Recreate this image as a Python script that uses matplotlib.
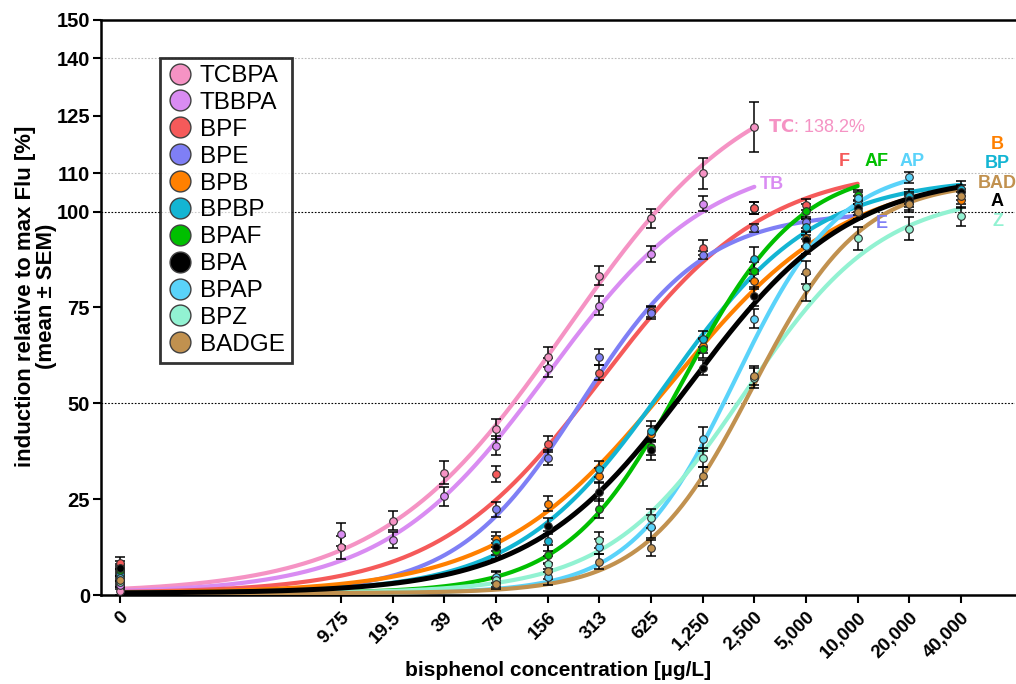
import numpy as np
import matplotlib
matplotlib.use('Agg')
import matplotlib.pyplot as plt
from matplotlib.lines import Line2D

plt.rcParams['font.family'] = ['Liberation Sans', 'DejaVu Sans']

# concentrations (0 is drawn at 0.5 on the log axis)
conc = [0.5, 9.75, 19.5, 39, 78, 156, 313, 625, 1250, 2500, 5000, 10000, 20000, 40000]
conc_labels = ['0', '9.75', '19.5', '39', '78', '156', '313', '625', '1,250', '2,500',
               '5,000', '10,000', '20,000', '40,000']

names = ['TCBPA', 'TBBPA', 'BPF', 'BPE', 'BPB', 'BPBP', 'BPAF', 'BPA', 'BPAP', 'BPZ', 'BADGE']
colors = ['#f593c4', '#d98cf2', '#f55a5a', '#7f7ff5', '#ff8000', '#13b5d3',
          '#00bf00', '#000000', '#5ad3fa', '#92f2d2', '#c1914f']

n = np.nan
# mean values per concentration (same order as conc)
means = {
    'TCBPA': [1.1, 12.5, 19.4, 31.9, 43.3, 62.1, 83.3, 98.2, 110.0, 122.0, n, n, n, n],
    'TBBPA': [2.6, 15.9, 14.4, 25.8, 38.9, 59.3, 75.5, 88.9, 102.1, 100.9, n, n, n, n],
    'BPF':   [8.3, n, n, n, 31.6, 39.4, 58.0, 74.0, 90.6, 101.0, 101.8, n, n, n],
    'BPE':   [5.0, n, n, n, 22.4, 35.8, 62.1, 73.6, 88.6, 95.8, 97.2, n, n, n],
    'BPB':   [6.0, n, n, n, 14.5, 23.8, 31.1, 42.0, 65.0, 81.8, 93.0, 100.0, 102.5, 103.0],
    'BPBP':  [5.5, n, n, n, 13.5, 14.1, 32.9, 42.9, 66.8, 87.7, 96.0, 102.0, 104.0, 106.0],
    'BPAF':  [6.5, n, n, n, 11.5, 10.5, 22.5, 38.5, 64.2, 84.4, 100.1, 104.2, n, n],
    'BPA':   [7.0, n, n, n, 12.5, 18.0, 27.0, 37.8, 59.3, 77.9, 92.7, 101.0, 103.1, 105.0],
    'BPAP':  [4.5, n, n, n, 4.7, 4.7, 12.6, 17.8, 40.7, 72.1, 90.9, 103.5, 108.9, n],
    'BPZ':   [3.5, n, n, n, 4.0, 8.1, 14.4, 20.0, 35.8, 56.6, 80.3, 93.1, 95.5, 98.8],
    'BADGE': [3.9, n, n, n, 3.0, 6.3, 8.7, 12.3, 31.0, 57.2, 84.2, 100.0, 102.0, 104.0],
}
sems = {
    'TCBPA': [1.0, 3.0, 2.5, 3.0, 2.5, 2.5, 2.5, 2.5, 4.0, 6.5, n, n, n, n],
    'TBBPA': [1.0, 3.0, 2.0, 2.5, 2.5, 2.5, 2.5, 2.0, 2.0, 1.5, n, n, n, n],
    'BPF':   [1.5, n, n, n, 2.0, 2.0, 2.0, 1.5, 2.0, 1.5, 1.5, n, n, n],
    'BPE':   [1.5, n, n, n, 2.0, 2.0, 2.0, 1.5, 1.0, 1.0, 1.5, n, n, n],
    'BPB':   [1.5, n, n, n, 2.0, 2.0, 2.0, 2.0, 2.0, 2.0, 2.0, 2.0, 2.0, 2.0],
    'BPBP':  [1.5, n, n, n, 2.0, 2.5, 2.0, 2.5, 2.0, 3.0, 2.0, 2.0, 2.0, 2.0],
    'BPAF':  [1.5, n, n, n, 2.0, 2.5, 2.5, 2.0, 2.5, 2.5, 2.0, 1.5, n, n],
    'BPA':   [2.0, n, n, n, 2.0, 2.0, 2.5, 2.5, 2.0, 2.5, 2.0, 2.0, 2.0, 2.0],
    'BPAP':  [1.5, n, n, n, 1.5, 2.0, 2.0, 3.0, 3.0, 2.5, 2.0, 1.5, 1.5, n],
    'BPZ':   [1.5, n, n, n, 2.0, 2.0, 2.0, 2.5, 2.5, 2.5, 3.5, 3.0, 3.0, 2.5],
    'BADGE': [1.5, n, n, n, 1.5, 2.0, 2.0, 2.0, 2.5, 2.5, 3.0, 2.0, 2.0, 2.0],
}

# Hill fit parameters
bottom = [0.5, 0.5, 0.5, 0.5, 0.5, 0.5, 0.5, 0.5, 0.5, 0.5, 0.5]
top = [138.2, 115, 112, 100, 110, 109, 112, 110, 112, 105, 108]
ec50 = [202, 157, 320, 245, 816, 760, 970, 1064, 1936, 2206, 2449]
hill = [0.80, 0.91, 0.905, 1.2, 0.857, 1.0, 1.28, 0.937, 1.43, 1.09, 1.38]
curve_end = [2500, 2500, 10000, 10000, 40000, 40000, 10000, 40000, 20000, 40000, 40000]

# short labels at the curve ends
short = ['TC', 'TB', 'F', 'E', 'B', 'BP', 'AF', 'A', 'AP', 'Z', 'BAD']
short_x = [3000, 2700, 8300, 13900, 65300, 65300, 12900, 65300, 20800, 65300, 65300]
short_y = [121.9, 107, 113, 96.9, 117.5, 112.5, 113, 102.6, 113, 97.4, 107.3]
short_ha = ['left', 'left', 'center', 'center', 'center', 'center', 'center', 'center',
            'center', 'center', 'center']

fig = plt.figure(figsize=(10.16, 6.84), dpi=100)
ax = fig.add_axes([0.0994, 0.130, 0.9, 0.841])
ax.set_xscale('log', base=2)

for i, nm in enumerate(names):
    xs = np.logspace(np.log10(conc[0]), np.log10(curve_end[i]), 300)
    ys = bottom[i] + (top[i] - bottom[i]) / (1 + (ec50[i] / xs) ** hill[i])
    lw = 3.6 if nm == 'BPA' else 3.0
    z = 4 if nm == 'BPA' else 3
    ax.plot(xs, ys, color=colors[i], lw=lw, zorder=z, solid_capstyle='round')

for i, nm in enumerate(names):
    m = np.array(means[nm])
    s = np.array(sems[nm])
    ok = ~np.isnan(m)
    x = np.array(conc)[ok]
    ax.errorbar(x, m[ok], yerr=s[ok], fmt='none', ecolor='black', elinewidth=1.1,
                capsize=3.5, capthick=1.1, zorder=5)
    ax.plot(x, m[ok], 'o', ms=5.5, mfc=colors[i], mec='#303030', mew=0.8, zorder=6)

for i in range(len(names)):
    if short[i] == 'TC':
        ax.text(short_x[i], short_y[i], r'$\bf{TC}$: 138.2%', color=colors[i],
                fontsize=13, ha='left', va='center')
    else:
        ax.text(short_x[i], short_y[i], short[i], color=colors[i], fontsize=13,
                fontweight='bold', ha=short_ha[i], va='center')

# reference lines
for yv in [50, 100]:
    ax.axhline(yv, color='black', lw=0.8, ls=(0, (1.5, 1.5)), zorder=1)
for yv in [110, 140]:
    ax.axhline(yv, color='#bbbbbb', lw=0.8, ls=(0, (1.5, 1.5)), zorder=1)

ax.set_xlim(0.39, 83000)
ax.set_ylim(0, 150)
ax.set_xticks(conc)
ax.set_xticklabels(conc_labels, rotation=45, ha='right', rotation_mode='anchor',
                   fontweight='bold', fontsize=13.5)
ax.minorticks_off()
ax.set_yticks([0, 25, 50, 75, 100, 110, 125, 140, 150])
ax.set_yticklabels(['0', '25', '50', '75', '100', '110', '125', '140', '150'],
                   fontweight='bold', fontsize=14.5)
ax.tick_params(axis='both', direction='out', length=6, width=1.5, pad=2)
ax.tick_params(axis='x', pad=4)

ax.spines['right'].set_visible(False)
for sp in ['left', 'bottom', 'top']:
    ax.spines[sp].set_linewidth(1.8)

ax.set_xlabel('bisphenol concentration [µg/L]', fontsize=15, fontweight='bold', labelpad=0)
ax.set_ylabel('induction relative to max Flu [%]\n(mean ± SEM)', fontsize=16,
              fontweight='bold', linespacing=1.0, va='center', ha='center')
ax.yaxis.set_label_coords(-0.0715, 0.52)

handles = [Line2D([], [], ls='none', marker='o', ms=15, mfc=c, mec='#404040', mew=1.0)
           for c in colors]
leg = ax.legend(handles, names, loc='upper left', bbox_to_anchor=(0.064, 0.934),
                fontsize=17.5, frameon=True, fancybox=False, edgecolor='black',
                handletextpad=0.3, borderpad=0.3, labelspacing=0.2, handlelength=1.05,
                borderaxespad=0)
leg.get_frame().set_linewidth(2)
leg.set_zorder(10)

fig.savefig('out.png', dpi=100)
